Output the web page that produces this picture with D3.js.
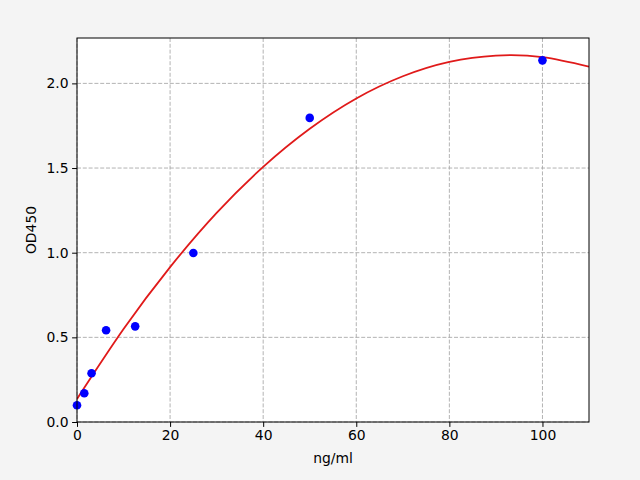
<!doctype html>
<html>
<head>
    <meta charset="utf-8">
    <title>OD450 standard curve</title>
    <script src="https://cdn.jsdelivr.net/npm/d3@7"></script>
    <style>
        body { margin: 0; background: #f4f4f4; }
        svg { display: block; font-family: "DejaVu Sans", sans-serif; }
    </style>
</head>
<body>
    <svg width="640" height="480"></svg>
    <script>
    // standard points (concentration, OD)
    var conc = [0, 1.5625, 3.125, 6.25, 12.5, 25, 50, 100];
    var od = [0.099, 0.17, 0.288, 0.542, 0.565, 0.998, 1.796, 2.136];

    // fitted curve
    var fitX = [0, 10, 20, 30, 40, 50, 60, 70, 80, 90, 100, 110];
    var fitY = [0.136, 0.549, 0.915, 1.235, 1.507, 1.732, 1.911, 2.042, 2.127, 2.164, 2.155, 2.099];

    var xTicks = [0, 20, 40, 60, 80, 100];
    var yTicks = [0, 0.5, 1.0, 1.5, 2.0];

    var svg = d3.select("svg"),
        margin = { top: 38, right: 51, bottom: 58, left: 77 },
        width = +svg.attr("width") - margin.left - margin.right,
        height = +svg.attr("height") - margin.top - margin.bottom;

    svg.append("rect").attr("width", 640).attr("height", 480).attr("fill", "#f4f4f4");

    var g = svg.append("g").attr("transform", "translate(" + margin.left + "," + margin.top + ")");

    var x = d3.scaleLinear().domain([0, 110]).range([0, width]);
    var y = d3.scaleLinear().domain([0, 2.268]).range([height, 0]);

    g.append("rect").attr("width", width).attr("height", height).attr("fill", "#fff");

    // grid
    g.append("g").selectAll("line").data(xTicks).enter().append("line")
        .attr("x1", function(d) { return x(d); }).attr("x2", function(d) { return x(d); })
        .attr("y1", 0).attr("y2", height)
        .attr("stroke", "#aaa").attr("stroke-width", 0.9).attr("stroke-dasharray", "4,1.8");
    g.append("g").selectAll("line").data(yTicks).enter().append("line")
        .attr("y1", function(d) { return y(d); }).attr("y2", function(d) { return y(d); })
        .attr("x1", 0).attr("x2", width)
        .attr("stroke", "#aaa").attr("stroke-width", 0.9).attr("stroke-dasharray", "4,1.8");

    // curve
    var line = d3.line()
        .x(function(d, i) { return x(fitX[i]); })
        .y(function(d) { return y(d); })
        .curve(d3.curveNatural);

    g.append("clipPath").attr("id", "clip").append("rect").attr("width", width).attr("height", height);

    g.append("path").datum(fitY)
        .attr("clip-path", "url(#clip)")
        .attr("d", line)
        .attr("fill", "none").attr("stroke", "#e01a1a").attr("stroke-width", 1.8);

    // points
    g.append("g").selectAll("circle").data(od).enter().append("circle")
        .attr("cx", function(d, i) { return x(conc[i]); })
        .attr("cy", function(d) { return y(d); })
        .attr("r", 4.3)
        .attr("fill", "#0000ff");

    // axes
    var xAxis = d3.axisBottom(x).tickValues(xTicks).tickSize(4.9).tickPadding(3.5).tickFormat(d3.format("d"));
    var yAxis = d3.axisLeft(y).tickValues(yTicks).tickSize(4.9).tickPadding(3.5).tickFormat(d3.format(".1f"));

    var xg = g.append("g").attr("transform", "translate(0," + height + ")").call(xAxis);
    var yg = g.append("g").call(yAxis);
    [xg, yg].forEach(function(a) {
        a.select(".domain").remove();
        a.selectAll(".tick line").attr("stroke", "#000").attr("stroke-width", 1);
        a.selectAll(".tick text").attr("fill", "#000").style("font-size", "13.9px").style("font-family", "DejaVu Sans");
    });

    // frame
    g.append("rect").attr("width", width).attr("height", height)
        .attr("fill", "none").attr("stroke", "#000").attr("stroke-width", 1);

    // labels
    svg.append("text")
        .attr("x", margin.left + width / 2).attr("y", 463)
        .attr("text-anchor", "middle")
        .style("font-size", "13.9px")
        .text("ng/ml");

    svg.append("text")
        .attr("transform", "translate(36," + (margin.top + height / 2) + ") rotate(-90)")
        .attr("text-anchor", "middle")
        .style("font-size", "13.9px")
        .text("OD450");
    </script>
</body>
</html>
